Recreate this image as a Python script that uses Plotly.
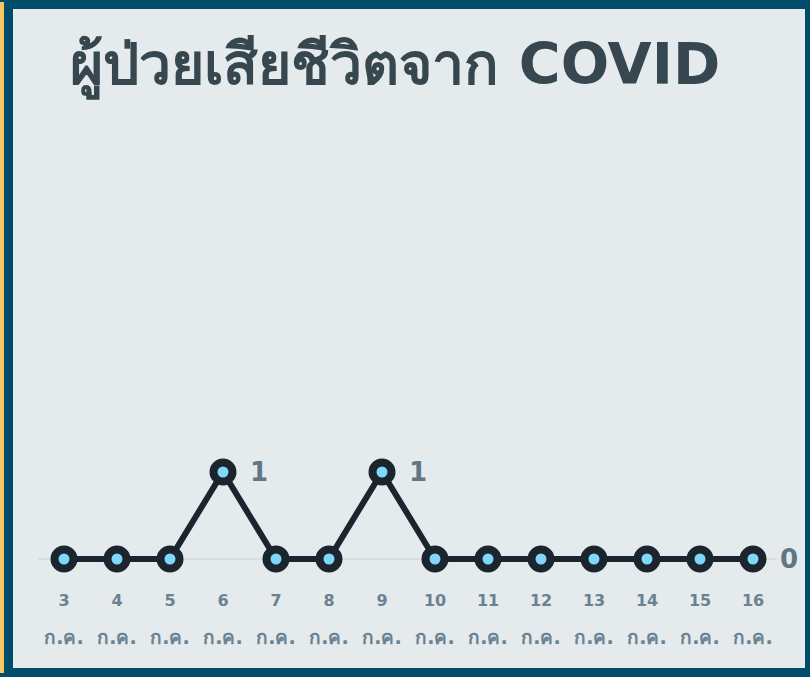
import plotly.graph_objects as go

days = [3, 4, 5, 6, 7, 8, 9, 10, 11, 12, 13, 14, 15, 16]
month = "ก.ค."
deaths = [0, 0, 0, 1, 0, 0, 1, 0, 0, 0, 0, 0, 0, 0]
title_text = "ผู้ป่วยเสียชีวิตจาก COVID"

W, H = 810, 677
L, R, T, B = 38, 33, 130, 97
PW, PH = W - L - R, H - T - B
FONT = "DejaVu Sans, Noto Sans, sans-serif"

def px(x):
    return (x - L) / PW

def py(y):
    return (H - B - y) / PH

fig = go.Figure()
# invisible carrier for the month-label axis
fig.add_trace(go.Scatter(
    x=days, y=deaths, xaxis="x2", yaxis="y", mode="markers",
    marker=dict(opacity=0), hoverinfo="skip", showlegend=False,
))
fig.add_trace(go.Scatter(
    x=days, y=deaths, mode="lines+markers",
    line=dict(color="#1b252e", width=6),
    marker=dict(size=19, color="#7fd8f9", line=dict(color="#1b252e", width=8)),
    hoverinfo="skip", showlegend=False, cliponaxis=False,
))

annotations = []
peak = max(deaths)
for i, (d, v) in enumerate(zip(days, deaths)):
    if (v == peak and v > 0) or i == len(days) - 1:
        annotations.append(dict(
            x=d, y=v, xref="x", yref="y", text=f"<b>{v}</b>", showarrow=False,
            xanchor="left", yanchor="middle", xshift=25, yshift=0,
            font=dict(size=26, color="#5f7785", family=FONT),
        ))

shapes = [
    dict(type="rect", xref="paper", yref="paper", x0=px(0), x1=px(4), y0=py(673), y1=py(2),
         fillcolor="#f7c860", line=dict(width=0), layer="below"),
    dict(type="rect", xref="paper", yref="paper", x0=px(13), x1=px(805), y0=py(668), y1=py(9),
         fillcolor="#e5eaed", line=dict(width=0), layer="below"),
]

step = 53.0
x0 = days[0] - (64 - L) / step
x1 = x0 + PW / step
unit = 87.0
y0 = -(H - B - 559) / unit
y1 = y0 + PH / unit

fig.update_layout(
    width=W, height=H,
    margin=dict(l=L, r=R, t=T, b=B),
    paper_bgcolor="#004d6b",
    plot_bgcolor="rgba(0,0,0,0)",
    shapes=shapes,
    annotations=annotations,
    title=dict(
        text=f"<b>{title_text}</b>", xref="container", yref="container",
        x=70 / W, xanchor="left", y=1 - 64 / H, yanchor="middle",
        font=dict(size=57, color="#37474f", family=FONT),
    ),
    xaxis=dict(
        range=[x0, x1], tickmode="array", tickvals=days,
        ticktext=[f"<b>{d}</b>" for d in days],
        showgrid=False, zeroline=False, showline=False, ticks="",
        ticklabelstandoff=9,
        tickfont=dict(size=16, color="#6a8291", family=FONT),
    ),
    xaxis2=dict(
        range=[x0, x1], overlaying="x", anchor="y", side="bottom",
        tickmode="array", tickvals=days, ticktext=[f"<b>{month}</b>" for _ in days],
        showgrid=False, zeroline=False, showline=False, ticks="",
        ticklabelstandoff=44,
        tickfont=dict(size=19, color="#6a8291", family=FONT),
    ),
    yaxis=dict(
        range=[y0, y1], tickmode="array", tickvals=[0], showticklabels=False,
        showgrid=True, gridcolor="#d8dee2", gridwidth=2, zeroline=False, showline=False,
    ),
)

fig.write_html("out.html", config={"displayModeBar": False},
               post_script="document.body.style.margin='0';")
